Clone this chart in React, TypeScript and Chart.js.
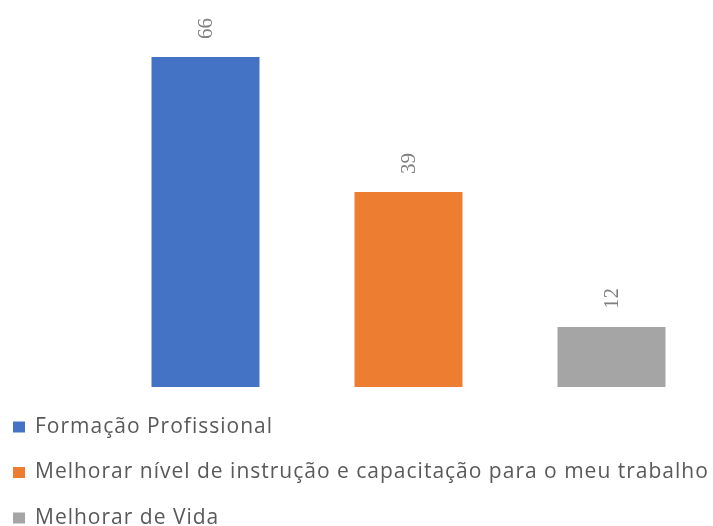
import React, { useEffect, useRef } from "react";
import { Chart, registerables } from "chart.js";

Chart.register(...registerables);

const categories = [""];
const seriesNames = [
  "Formação Profissional",
  "Melhorar nível de instrução e capacitação para o meu trabalho",
  "Melhorar de Vida",
];
const seriesValues = [66, 39, 12];
const seriesColors = ["#4472C4", "#ED7D31", "#A5A5A5"];

const valueLabelPlugin = {
  id: "valueLabels",
  afterDatasetsDraw(chart: any) {
    const ctx = chart.ctx;
    ctx.save();
    ctx.font = "21px 'Liberation Serif'";
    ctx.fillStyle = "#7F7F7F";
    ctx.textAlign = "left";
    ctx.textBaseline = "middle";
    chart.data.datasets.forEach((ds: any, i: number) => {
      const meta = chart.getDatasetMeta(i);
      meta.data.forEach((bar: any, j: number) => {
        const v = ds.data[j];
        if (v == null) return;
        ctx.save();
        ctx.translate(bar.x + 1, bar.y - 18);
        ctx.rotate(-Math.PI / 2);
        ctx.fillText(String(v), 0, 0);
        ctx.restore();
      });
    });
    ctx.restore();
  },
};

const legendPlugin = {
  id: "customLegend",
  afterDraw(chart: any) {
    const ctx = chart.ctx;
    ctx.save();
    ctx.font = "21px 'Open Sans'";
    (ctx as any).letterSpacing = "1px";
    ctx.textBaseline = "middle";
    ctx.textAlign = "left";
    chart.data.datasets.forEach((ds: any, i: number) => {
      const yc = 427 + i * 45.5;
      ctx.fillStyle = ds.backgroundColor;
      ctx.fillRect(13, yc - 5.5, 12, 11);
      ctx.fillStyle = "#595959";
      ctx.fillText(ds.label, 35, yc);
    });
    ctx.restore();
  },
};

export default function App() {
  const ref = useRef<HTMLCanvasElement>(null);
  useEffect(() => {
    document.body.style.margin = "0";
    if (!ref.current) return;
    const chart = new Chart(ref.current, {
      type: "bar",
      data: {
        labels: categories,
        datasets: seriesNames.map((name, i) => ({
          label: name,
          data: [seriesValues[i]],
          backgroundColor: seriesColors[i],
          categoryPercentage: 1,
          barPercentage: 0.532,
        })),
      },
      options: {
        responsive: false,
        animation: false,
        layout: { padding: { left: 104, right: 0, top: 37, bottom: 139 } },
        plugins: {
          legend: { display: false },
          tooltip: { enabled: false },
          title: { display: false },
        },
        scales: {
          x: { display: false },
          y: { display: false, min: 0, max: 70 },
        },
      },
      plugins: [valueLabelPlugin, legendPlugin],
    });
    return () => chart.destroy();
  }, []);
  return (
    <div style={{ width: 713, height: 526, background: "#fff" }}>
      <canvas ref={ref} width={713} height={526} style={{ display: "block" }} />
    </div>
  );
}
